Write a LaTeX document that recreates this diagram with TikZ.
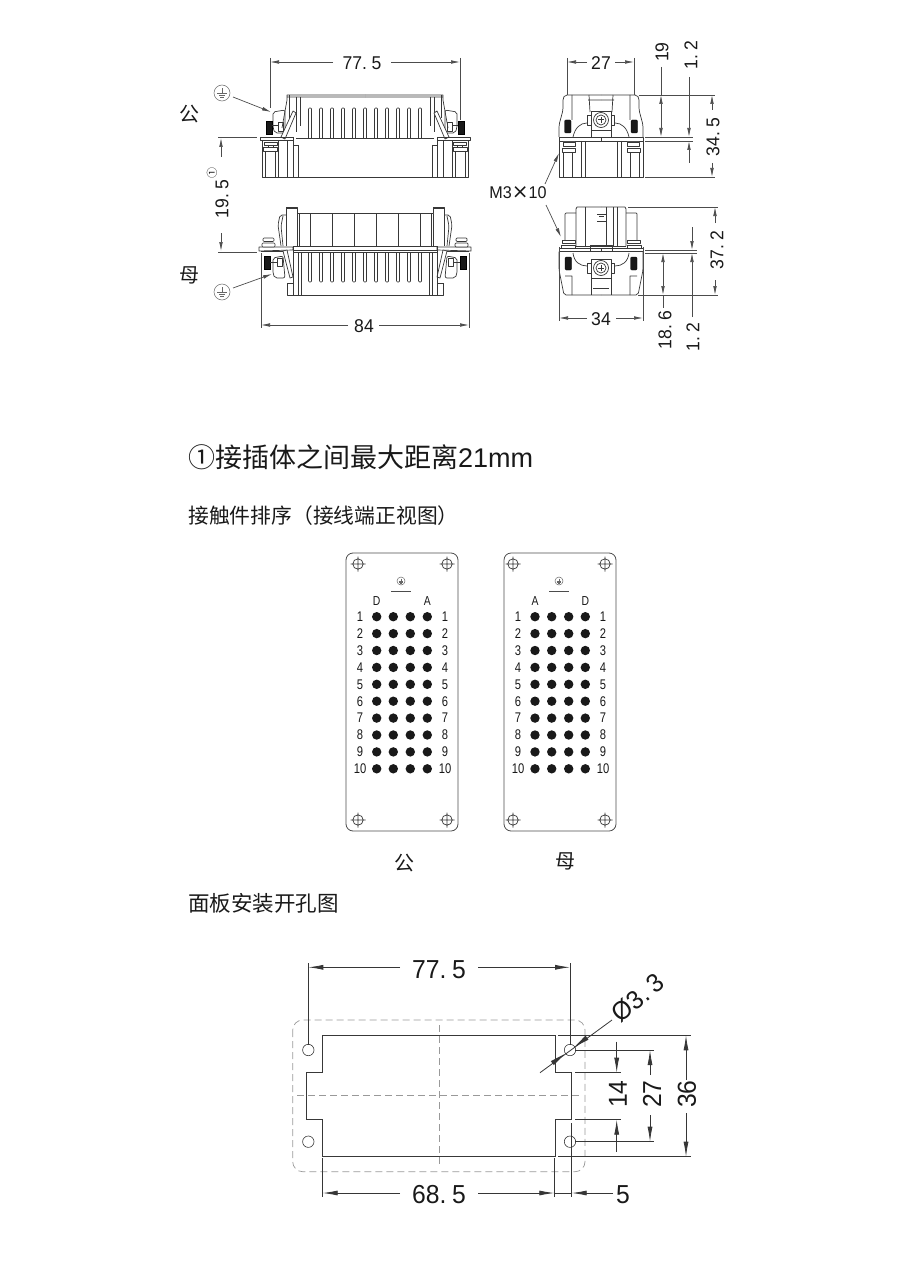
\documentclass[tikz,border=0pt]{standalone}
\usepackage{fontspec}
\setmainfont{Liberation Sans}
\newfontfamily\cjk{Noto Sans CJK SC}
\newfontfamily\dejav{DejaVu Sans}
\usetikzlibrary{arrows.meta}
\newcommand\fsz[1]{\fontsize{#1}{#1}\selectfont}
\newcommand\nar[1]{\scalebox{.95}[1]{#1}}
\definecolor{ink}{gray}{.22}
\definecolor{dimc}{gray}{.3}
\tikzset{
 part/.style={draw=ink,line width=.7pt,line join=round},
 knurl/.style={fill=black!90,draw=black,line width=.3pt},
 dl/.style={draw=dimc,line width=.7pt},
 da/.style={dl,-{Latex[length=9pt,width=3.6pt]}},
 dA/.style={dl,draw=dimc!70!black,line width=.8pt,-{Latex[length=15pt,width=5pt]}},
 dL/.style={draw=dimc!70!black,line width=.8pt},
 lab/.style={inner sep=0pt,text=black!90},
 dash outline/.style={draw=gray!80,line width=.7pt,dash pattern=on 7pt off 4pt},
 cut/.style={draw=ink,line width=.9pt},
 dot/.style={fill=black!90,draw=none},
}
\newcommand\gnd[3]{% x y r
 \draw[draw=black!60,line width=.5pt] (#1,#2) circle (#3);
 \draw[draw=black!60,line width=.4pt] (#1,#2-.6*#3)--(#1,#2)
   (#1-.6*#3,#2)--(#1+.6*#3,#2) (#1-.4*#3,#2+.25*#3)--(#1+.4*#3,#2+.25*#3) (#1-.2*#3,#2+.5*#3)--(#1+.2*#3,#2+.5*#3);}
\newcommand\xhole[2]{%
 \draw[draw=ink,line width=.7pt] (#1,#2) circle (5.2) (#1-7.5,#2)--(#1+7.5,#2) (#1,#2-7.5)--(#1,#2+7.5);}
\newcommand\cscrew[2]{%
 \draw[part,fill=white] (#1-13.5,#2-5) rectangle (#1-10,#2+5) (#1+10,#2-5) rectangle (#1+13.5,#2+5);
 \draw[part,fill=white] (#1-10,#2-9) rectangle (#1+10,#2+10);
 \draw[part,fill=white] (#1,#2) circle (7.5);
 \draw[part] (#1,#2) circle (5);
 \draw[draw=ink,line width=1pt] (#1-3,#2)--(#1+3,#2) (#1,#2-3)--(#1,#2+3);}
\begin{document}
\begin{tikzpicture}[x=1pt,y=-1pt]
\useasboundingbox (0,0) rectangle (910,1268);
% ---------- male, front view
\foreach \m/\sh in {1/0,-1/-730}{
\begin{scope}[xscale=\m,xshift=\sh pt]
 \draw[part] (365,95)--(287,95)--(287,100)--(282,128) (287,97)--(365,97);
 \draw[part] (289,95)--(289,118) (296,97)--(296,132) (300,97)--(300,126);
 \draw[part,rounded corners=2pt] (273,112)--(285,110)--(285,133)--(275,133)--(273,128)--cycle;
 \draw[part,fill=white] (293,111)--(296,113)--(285,139)--(281,137)--cycle;
 \draw[knurl] (266,121) rectangle (272,134);
 \draw[part] (272,125)--(278,125) (278,122) rectangle (283,131);
 \draw[part] (260,137) rectangle (293,140.5);
 \draw[part] (262,140.5)--(262,177)--(365,177) (278,140.5)--(278,177) (287,140.5)--(287,177)
   (293,137)--(293,177) (298,145)--(298,177) (293,145)--(298,145);
 \draw[part] (296,138)--(365,138);
 \draw[part,fill=white] (264,142) rectangle (277,145) (263,147) rectangle (277,151);
 \draw[part] (268,145)--(268,147) (273,145)--(273,147) (265,151)--(265,177) (275,151)--(275,177);
\end{scope}}
\foreach \i in {0,...,10}{
 \draw[part,rounded corners=1pt] (\i*11+308.5,138)--(\i*11+308.5,108)--(\i*11+311.5,108)--(\i*11+311.5,138);}
% ---------- female, front view
\foreach \m/\sh in {1/0,-1/-730}{
\begin{scope}[xscale=\m,xshift=\sh pt]
 \draw[part] (297,246)--(297,213)--(365,213) (286,246)--(286,207)--(297,207)--(297,213);
 \draw[part] (286,208)--(297,208) (299,213)--(299,246) (310,213)--(310,246) (332,213)--(332,246) (354,213)--(354,246);
 \draw[part,rounded corners=2pt] (286,215)--(280,215)--(278,225)--(281,246) (283,216)--(281,226)--(283,246);
 \draw[part] (259,247)--(293,247)--(293,250)--(259,251)--cycle;
 \draw[part] (293,246)--(365,246) (293,250)--(365,250) (293,252)--(365,252);
 \draw[part,fill=white,rounded corners=1pt] (263,238) rectangle (274,241.5) (262,243) rectangle (275,247);
 \draw[part] (261,251)--(283,251);
 \draw[knurl] (264,256) rectangle (270,269);
 \draw[part,fill=white,rounded corners=2pt] (273,258)--(283,256)--(285,278)--(275,278)--(273,274)--cycle;
 \draw[part] (270,262)--(277,262) (277,258) rectangle (282,266);
 \draw[part,fill=white] (283,251)--(287,250)--(293,277)--(290,278)--cycle;
 \draw[part] (293,246)--(293,295) (298,252)--(298,295) (301,252)--(301,295) (287,283)--(287,295)--(365,295) (287,283)--(293,283);
\end{scope}}
\draw[part] (376,213)--(376,246) (398,213)--(398,246) (420,213)--(420,246);
\foreach \i in {0,...,10}{
 \draw[part,rounded corners=1pt] (\i*11+308.5,252)--(\i*11+308.5,282)--(\i*11+311.5,282)--(\i*11+311.5,252);}
% ---------- male, side view
\foreach \m/\sh in {1/0,-1/-1202}{
\begin{scope}[xscale=\m,xshift=\sh pt]
 \draw[part,rounded corners=2pt] (601,95)--(565,95)--(563,98)--(563,110)--(559,125)--(559,137);
 \draw[part] (572,95)--(572,120) (573,137)..controls (575,128) and (580,123) .. (587,123);
 \draw[knurl,rounded corners=1pt] (564.5,120) rectangle (571,133);
 \draw[part] (559,137) rectangle (601,141);
 \draw[part] (559,141)--(559,177)--(601,177) (563,152)--(563,177) (572,152)--(572,177) (581,141)--(581,177) (585,141)--(585,177);
 \draw[part,fill=white] (563,142) rectangle (575,146.5) (562,148) rectangle (575,152);
 \draw[part] (588,100)--(601,100) (589,95)--(590,112);
\end{scope}}
\cscrew{601}{120}
\draw[part] (591,130)--(591,137) (611,130)--(611,137);
% ---------- female, side view
\foreach \m/\sh in {1/0,-1/-1202}{
\begin{scope}[xscale=\m,xshift=\sh pt]
 \draw[part] (601,207)--(577,207)--(576,209)--(576,246);
 \draw[part,rounded corners=1pt] (576,213)--(565,213)--(565,240);
 \draw[part] (585,207)--(585,246) (576,246)--(601,246);
 \draw[part,fill=white] (562,240) rectangle (575,243) (561,245) rectangle (575,248);
 \draw[part] (559,248) rectangle (601,251.5);
 \draw[part,rounded corners=2pt] (559,251.5)--(559,270)--(564,295)--(601,295);
 \draw[part] (565,276)--(572,276)--(572,295) (573,253)..controls (574,262) and (580,266) .. (587,266);
 \draw[knurl,rounded corners=1pt] (565,257) rectangle (571.5,270);
 \draw[part] (591,276)--(591,295) (593,288)--(601,288);
\end{scope}}
\draw[part] (606,207)--(606,246) (613,207)--(613,246) (590,245) rectangle (612,251.5);
\draw[part] (597,214)--(606,214) (599,216)--(604,216) (597,221)--(606,221);
\cscrew{601}{268}
% ---------- dimensions, top left
\draw[dl] (270,58)--(270,108) (460,58)--(460,120);
\draw[da] (333,62)--(270,62); \draw[da] (391,62)--(460,62);
\node[lab] (dtop) at (362,63) {\fsz{18.5}\nar{77.\kern5pt 5}};
\gnd{222}{93}{8}
\coordinate (gm) at (233,97); \coordinate (gmt) at (271,112);
\draw[da] (gm)--(gmt);
\node[lab] (kong1) at (189,114) {\cjk\fsz{20}公};
\draw[dl] (218,137)--(257,137) (218,252)--(257,252);
\draw[da] (221,157)--(221,138);
\draw[da] (221,233)--(221,251);
\node[lab,rotate=90] (d195) at (222,199) {\fsz{18.5}\nar{19.\kern5pt 5}};
\node[lab,rotate=90] (circ1) at (212,173) {\cjk\fsz{11}①};
\node[lab] (mu1) at (189,275) {\cjk\fsz{20}母};
\gnd{222}{292}{8}
\coordinate (gf) at (233,288); \coordinate (gft) at (272,274);
\draw[da] (gf)--(gft);
\draw[dl] (261,253)--(261,328) (469,253)--(469,328);
\draw[da] (348,325)--(261,325); \draw[da] (379,325)--(469,325);
\node[lab] (d84) at (364,326) {\fsz{18.5}\nar{84}};
% ---------- dimensions, right
\draw[dl] (567,58)--(567,95) (634,58)--(634,95);
\draw[da] (587,62)--(567,62); \draw[da] (615,62)--(634,62);
\node[lab] (d27) at (601,63) {\fsz{18.5}\nar{27}};
\draw[dl] (639,95)--(715,95) (645,137)--(693,137) (645,141)--(693,141) (645,177)--(715,177);
\draw[dl] (661,67)--(661,95);
\draw[da] (661,115)--(661,95); \draw[da] (661,115)--(661,137);
\node[lab,rotate=90] (d19) at (662,52) {\fsz{18.5}\nar{19}};
\draw[da] (689,77)--(689,137); \draw[da] (689,163)--(689,141);
\node[lab,rotate=90] (d12a) at (691,55) {\fsz{18.5}\nar{1.\kern5pt 2}};
\draw[da] (712,110)--(712,95); \draw[da] (712,163)--(712,177);
\node[lab,rotate=90] (d345) at (713,137) {\fsz{18.5}\nar{34.\kern5pt 5}};
\node[lab] (m3) at (518,193) {\fsz{17}\nar{M3}{\dejav\fsz{20}×}\nar{10}};
\draw[da] (545,184)--(559,153);
\draw[da] (546,205)--(561,237);
\draw[dl] (628,207)--(718,207) (645,250)--(697,250) (645,253)--(697,253) (638,295)--(718,295);
\draw[dl] (559,247)--(559,321) (643,247)--(643,321);
\draw[da] (587,318)--(559,318); \draw[da] (616,318)--(643,318);
\node[lab] (d34) at (601,319) {\fsz{18.5}\nar{34}};
\draw[da] (715,223)--(715,207); \draw[da] (715,280)--(715,295);
\node[lab,rotate=90] (d372) at (717,250) {\fsz{18.5}\nar{37.\kern5pt 2}};
\draw[da] (663,275)--(663,253); \draw[da] (663,275)--(663,295);
\draw[dl] (663,295)--(663,308);
\node[lab,rotate=90] (d186) at (665,330) {\fsz{18.5}\nar{18.\kern5pt 6}};
\draw[da] (692,227)--(692,250); \draw[da] (692,317)--(692,253);
\node[lab,rotate=90] (d12b) at (693,337) {\fsz{18.5}\nar{1.\kern5pt 2}};
% ---------- headings
\node[lab,anchor=west] (t1) at (188,457) {\cjk\fsz{27}①接插体之间最大距离{\rmfamily 21mm}};
\node[lab,anchor=west] (t2) at (188,516) {\cjk\fsz{20.8}接触件排序（接线端正视图）};
\node[lab,anchor=west] (t3) at (188,903) {\cjk\fsz{21.5}面板安装开孔图};
% ---------- contact panels
\foreach \px/\lx/\rx/\xa/\xb/\xc/\xd/\la/\lb/\gx/\hl/\hr/\nm in
 {346/360/445/376.7/393.3/410.3/427.3/D/A/401/358/447/p,
  504/518/603/535/551.7/568.7/585.3/A/D/559/513/605/q}{
 \draw[part,draw=black!70,line width=.8pt,rounded corners=7pt] (\px,553) rectangle (\px+112,831);
 \xhole{\hl}{564}\xhole{\hr}{564}\xhole{\hl}{820}\xhole{\hr}{820}
 \gnd{\gx}{581}{4}
 \draw[draw=black!70,line width=.7pt] (\gx-10,591)--(\gx+10,591);
 \node[lab] (\nm a) at (\xa,601) {\fsz{13}\scalebox{.8}[1]{\la}};
 \node[lab] (\nm b) at (\xd,601) {\fsz{13}\scalebox{.8}[1]{\lb}};
 \foreach \r in {1,...,10}{
  \node[lab] (\nm l\r) at (\lx,616.7+16.9*\r-16.9) {\fsz{14}\scalebox{.8}[1]{\r}};
  \node[lab] (\nm r\r) at (\rx,616.7+16.9*\r-16.9) {\fsz{14}\scalebox{.8}[1]{\r}};
  \foreach \c in {\xa,\xb,\xc,\xd}{
   \fill[dot] (\c,616.7+16.9*\r-16.9) circle (4.7);}
 }
}
\node[lab] (kong2) at (404,863) {\cjk\fsz{20}公};
\node[lab] (mu2) at (565,861) {\cjk\fsz{20}母};
% ---------- panel cut-out
\draw[dash outline,rounded corners=10pt] (292.7,1020) rectangle (585,1171.7);
\draw[dash outline] (439,1025)--(439,1167) (297,1095.7)--(580,1095.7);
\draw[cut] (322.7,1035.3)--(555,1035.3)--(555,1072.7)--(571.7,1072.7)--(571.7,1119.7)--(555,1119.7)--(555,1156.7)--(322.7,1156.7)--(322.7,1119.7)--(306,1119.7)--(306,1072.7)--(322.7,1072.7)--cycle;
\foreach \hx/\hy in {308.3/1050,570/1050,308.3/1141.7,570/1141.7}{
 \draw[draw=ink,line width=.6pt] (\hx,\hy) circle (5.7);}
\draw[dL] (308.3,963)--(308.3,1045) (570,963)--(570,1045);
\draw[dA] (400,967.3)--(308.3,967.3); \draw[dA] (478,967.3)--(570,967.3);
\node[lab] (e775) at (439,970) {\fsz{26}\nar{77.\kern6pt 5}};
\coordinate (lu) at (612,1020); \coordinate (ld) at (540,1072.7);
\draw[dL] (lu)--(ld);
\fill[dimc!70!black] (575,1046.5)--(585.5,1035.6)--(588.5,1039.6)--cycle (564.3,1054.3)--(550.8,1061.1)--(553.8,1065.1)--cycle;
\node[lab,rotate=39] (phi) at (638,998) {\fsz{26}\nar{Ø3.\kern6pt 3}};
\draw[dL] (558,1035.3)--(690.7,1035.3) (558,1156.7)--(690.7,1156.7);
\draw[dA] (686,1080)--(686,1035.3); \draw[dA] (686,1113)--(686,1156.7);
\node[lab,rotate=90] (e36) at (687,1094) {\fsz{26}\nar{36}};
\draw[dL] (575,1050)--(654,1050) (575,1141.7)--(654,1141.7);
\draw[dA] (650,1075)--(650,1050); \draw[dA] (650,1115)--(650,1141.7);
\node[lab,rotate=90] (e27) at (652,1094) {\fsz{26}\nar{27}};
\draw[dL] (575,1072.7)--(620.7,1072.7) (575,1119.7)--(620.7,1119.7);
\draw[dA] (616.7,1041.7)--(616.7,1072.7); \draw[dA] (616.7,1151.7)--(616.7,1119.7);
\node[lab,rotate=90] (e14) at (618,1094) {\fsz{26}\nar{14}};
\draw[dL] (322.7,1158)--(322.7,1197) (554.3,1158)--(554.3,1197) (571.7,1123)--(571.7,1197);
\draw[dA] (400,1193)--(322.7,1193); \draw[dA] (478,1193)--(554.3,1193);
\draw[dL] (554.3,1193)--(571.7,1193);
\draw[dA] (613,1193)--(571.7,1193);
\node[lab] (e685) at (439,1195) {\fsz{26}\nar{68.\kern6pt 5}};
\node[lab] (e5) at (623,1195) {\fsz{26}\nar{5}};
\end{tikzpicture}
\end{document}
